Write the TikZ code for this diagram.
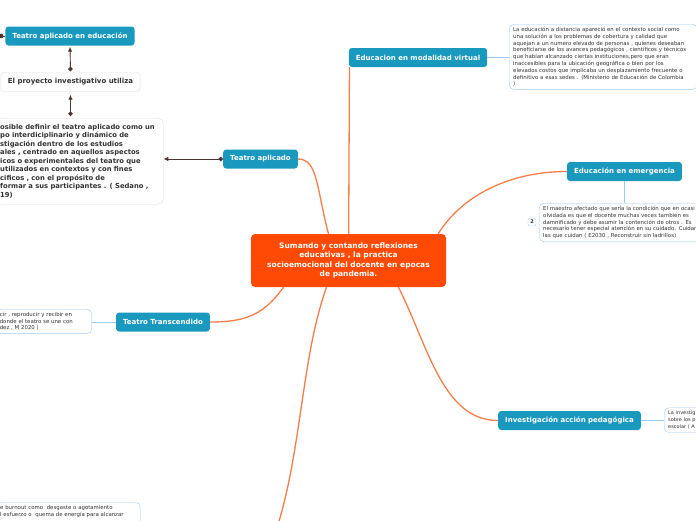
\documentclass[tikz,border=0pt]{standalone}
\usepackage{fontspec}
\setmainfont{DejaVu Sans}
\usetikzlibrary{arrows.meta, positioning}
\usepackage{xcolor}
\definecolor{mmorange}{HTML}{FF4A05}
\definecolor{mmteal}{HTML}{1A99BE}
\definecolor{mmbranch}{HTML}{F47D4A}
\definecolor{mmleaf}{HTML}{9DCDF0}
\definecolor{mmlink}{HTML}{4E342E}
\definecolor{mmtext}{HTML}{333333}

\begin{document}
\begin{tikzpicture}[
    x=1pt, y=-1pt,
    central/.style={rectangle, rounded corners=4pt, fill=mmorange,
                minimum width=195pt, minimum height=53pt, align=center,
                text=white, font=\fontsize{7.5}{9.6}\selectfont\bfseries},
    topic/.style={rectangle, rounded corners=3pt, fill=mmteal,
                minimum height=19pt, inner xsep=7pt, text=white,
                font=\fontsize{7}{8}\selectfont\bfseries},
    plain/.style={rectangle, rounded corners=3pt, fill=white, draw=black!12,
                minimum height=19pt, inner xsep=7pt, text=mmtext,
                font=\fontsize{7}{8}\selectfont\bfseries},
    note/.style={rectangle, rounded corners=5pt, fill=white, draw=mmleaf,
                align=left, inner xsep=4pt, inner ysep=3pt, text=mmtext,
                font=\fontsize{5.4}{6.8}\selectfont},
    badge/.style={rectangle, rounded corners=2pt, draw=mmleaf, fill=white,
                minimum size=8pt, inner sep=0pt, text=mmtext,
                font=\fontsize{5}{6}\selectfont\bfseries},
    branch/.style={draw=mmbranch, line width=1.3pt},
    leaf/.style={draw=mmleaf, line width=0.8pt},
    link/.style={{Circle[length=4.5pt]}-{Latex[length=5pt,width=4.5pt]}, draw=mmlink, line width=0.9pt}
  ]
    \useasboundingbox (0,0) rectangle (696,520);

    \node[central] (root) at (348.5,260.5) {Sumando y contando reflexiones\\ educativas , la practica\\ socioemocional del docente en epocas\\ de pandemia.};

    % right side
    \node[topic] (virtual) at (418,57.5) {Educacion en modalidad virtual};
    \node[note, anchor=north west, text width=180pt] (virtualnote) at (509,24) {La educación a distancia apareció en el contexto social como\\ una solución a los problemas de cobertura y calidad que\\ aquejan a un numero elevado de personas , quienes deseaban\\ beneficiarse de los avances pedagógicos , científicos y técnicos\\ que habían alcanzado ciertas instituciones,pero que eran\\ inaccesibles para la ubicación geográfica o bien por los\\ elevados costos que implicaba un desplazamiento frecuente o\\ definitivo a esas sedes . (Ministerio de Educación de Colombia\\ )};

    \node[topic] (emergencia) at (624.5,171.5) {Educación en emergencia};
    \node[note, anchor=north west, text width=180pt, minimum height=37pt] (emernote) at (539,203) {El maestro afectado que sería la condición que en ocasi\\ olvidada es que el docente muchas veces también es\\ damnificado y debe asumir la contención de otros . Es\\ necesario tener especial atención en su cuidado. Cuidar\\ las que cuidan ( E2030 , Reconstruir sin ladrillos)};
    \node[badge] (count) at (532,222) {2};

    \node[topic] (accion) at (569.5,420.5) {Investigación acción pedagógica};
    \node[note, anchor=north west, text width=60pt, minimum height=25pt,
          font=\fontsize{5}{6.8}\selectfont] (accionnote) at (664,407.5) {La investig\\ sobre los p\\ escolar ( A};

    % left side
    \node[topic] (aplicado) at (260.5,159) {Teatro aplicado};
    \node[plain, anchor=north west, align=left, text width=159pt, inner xsep=4pt,
          rounded corners=5pt, font=\fontsize{6.8}{8.5}\selectfont\bfseries,
          minimum height=86pt] (definicion) at (-4,118) {osible definir el teatro aplicado como un\\ po interdiciplinario y dinámico de\\ stigación dentro de los estudios\\ ales , centrado en aquellos aspectos\\ icos o experimentales del teatro que\\ utilizados en contextos y con fines\\ cificos , con el propósito de\\ formar a sus participantes . ( Sedano ,\\ 19)};
    \node[plain] (proyecto) at (70.5,82) {El proyecto investigativo utiliza};
    \node[topic] (educacion) at (70,36) {Teatro aplicado en educación};
    \coordinate (offleft) at (-8,36);

    \node[topic] (transcendido) at (163,322) {Teatro Transcendido};
    \node[note, anchor=north east, text width=88pt, minimum height=24pt] (transnote) at (92,309) {cir , reproducir y recibir en\\ donde el teatro se une con\\ dez , M 2020 )};

    \node[note, anchor=north west, text width=136pt] (burnout) at (-4,502) {e burnout como \ desgaste o agotamiento\\ l esfuerzo o \ quema de energía para alcanzar\\ \mbox{}\\ \mbox{}};
    \coordinate (offbottom) at (277,528);

    % branches
    \draw[branch] (root.north -| virtual.south west) -- ([xshift=0.8pt]virtual.south west);
    \draw[branch] ([xshift=-8pt]root.north east) .. controls +(25,-40) and +(-55,0) .. (emergencia.west);
    \draw[branch] ([xshift=50pt]root.south) .. controls +(30,60) and +(-55,0) .. (accion.west);
    \draw[branch] ([xshift=-20pt]root.north) .. controls +(-12,-45) and +(20,0) .. (aplicado.east);
    \draw[branch] ([xshift=-65pt]root.south) .. controls +(-20,28) and +(35,0) .. (transcendido.east);
    \draw[branch] ([xshift=-22pt]root.south) .. controls +(-25,70) and +(25,-80) .. (offbottom);

    \draw[leaf] (virtual.east) -- (virtualnote.west |- virtual.east);
    \draw[leaf] (emergencia.south) -- (emernote.north -| emergencia.south);
    \draw[leaf] (accion.east) -- (accionnote.west |- accion.east);
    \draw[leaf] (transcendido.west) -- (transnote.east |- transcendido.west);

    \draw[link] (aplicado.west) -- (definicion.east |- aplicado.west);
    \draw[link, shorten <=2pt, shorten >=3pt] (definicion.north -| proyecto.south) -- (proyecto.south);
    \draw[link, shorten <=1pt, shorten >=1pt] (proyecto.north) -- (educacion.south);
    \draw[link, -] (educacion.west) -- (offleft);
    \fill[mmlink] (educacion.west) ++(-4,0) circle (2.3pt);
  \end{tikzpicture}
\end{document}
